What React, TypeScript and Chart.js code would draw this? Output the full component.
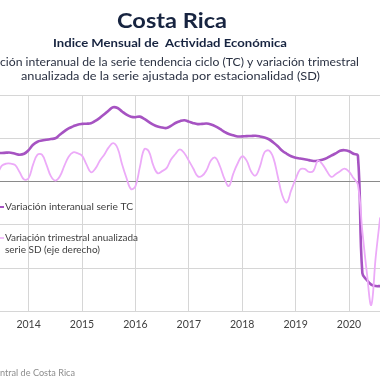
import React, { useEffect, useRef } from "react";
import { Chart, registerables } from "chart.js";

Chart.register(...registerables);

// Monthly observations, May 2013 – Aug 2020
const months: string[] = [
  "2013-05", "2013-06", "2013-07", "2013-08", "2013-09", "2013-10", "2013-11", "2013-12",
  "2014-01", "2014-02", "2014-03", "2014-04", "2014-05", "2014-06", "2014-07", "2014-08", "2014-09", "2014-10", "2014-11", "2014-12",
  "2015-01", "2015-02", "2015-03", "2015-04", "2015-05", "2015-06", "2015-07", "2015-08", "2015-09", "2015-10", "2015-11", "2015-12",
  "2016-01", "2016-02", "2016-03", "2016-04", "2016-05", "2016-06", "2016-07", "2016-08", "2016-09", "2016-10", "2016-11", "2016-12",
  "2017-01", "2017-02", "2017-03", "2017-04", "2017-05", "2017-06", "2017-07", "2017-08", "2017-09", "2017-10", "2017-11", "2017-12",
  "2018-01", "2018-02", "2018-03", "2018-04", "2018-05", "2018-06", "2018-07", "2018-08", "2018-09", "2018-10", "2018-11", "2018-12",
  "2019-01", "2019-02", "2019-03", "2019-04", "2019-05", "2019-06", "2019-07", "2019-08", "2019-09", "2019-10", "2019-11", "2019-12",
  "2020-01", "2020-02", "2020-03", "2020-04", "2020-05", "2020-06", "2020-07", "2020-08",
];

// Variación interanual serie TC (left axis, %)
const tcValues: number[] = [
  2.67, 2.64, 2.64, 2.67, 2.67, 2.57, 2.48, 2.57,
  2.90, 3.40, 3.68, 3.79, 3.86, 3.93, 4.00, 4.32, 4.64, 4.92, 5.10, 5.26,
  5.33, 5.35, 5.38, 5.61, 5.89, 6.21, 6.57, 6.87, 6.80, 6.48, 6.19, 6.00,
  5.95, 6.00, 5.79, 5.52, 5.26, 5.08, 4.99, 4.95, 5.15, 5.41, 5.58, 5.67,
  5.54, 5.40, 5.31, 5.33, 5.36, 5.27, 5.10, 4.86, 4.60, 4.39, 4.27, 4.17,
  4.18, 4.20, 4.21, 4.23, 4.17, 4.07, 3.91, 3.61, 3.26, 2.85, 2.57, 2.34,
  2.20, 2.13, 2.06, 1.98, 1.90, 1.93, 2.02, 2.17, 2.39, 2.60, 2.85, 2.90,
  2.80, 2.57, 2.39, -8.46, -9.10, -9.52, -9.66, -9.66,
];

// Variación trimestral anualizada serie SD (right axis, %)
const sdValues: number[] = [
  0.46, 1.84, 3.68, 4.14, 4.14, 3.79, 2.14, 0.46,
  0.80, 3.91, 6.21, 6.21, 3.91, 1.26, 0.23, 1.15, 3.56, 5.75, 6.74, 6.55,
  5.98, 3.98, 2.14, 2.99, 4.83, 6.21, 7.91, 8.87, 7.70, 4.00, 0.83, -1.72,
  -1.13, 3.33, 7.47, 7.01, 3.79, 1.93, 2.41, 3.10, 5.10, 6.37, 7.45, 6.53,
  4.83, 3.03, 1.24, 1.33, 2.64, 4.92, 5.52, 3.54, 0.69, -1.03, 1.84, 4.23,
  5.84, 4.83, 2.34, 1.38, 3.52, 6.74, 7.17, 5.47, 1.17, -3.17, -4.83, -2.05,
  0.55, 2.78, 2.94, 2.23, 2.48, 4.83, 4.02, 2.46, 1.08, 1.70, 2.39, 2.99,
  2.30, 0.80, -0.69, -11.49, -20.92, -28.51, -17.47, -8.28,
];

const yearTicks: number[] = [2014, 2015, 2016, 2017, 2018, 2019, 2020];

const titleText = "Costa Rica";
const subtitleText = "Indice Mensual de  Actividad Económica";
const descLine1 = "Variación interanual de la serie tendencia ciclo (TC) y variación trimestral";
const descLine2 = "anualizada de la serie ajustada por estacionalidad (SD)";
const legendTC = "Variación interanual serie TC";
const legendSD1 = "Variación trimestral anualizada";
const legendSD2 = "serie SD (eje derecho)";
const sourceText = "Fuente: Banco Central de Costa Rica";

const TC_COLOR = "#a653c2";
const SD_COLOR = "#ecaaf8";
const FONT = "Lato, 'Open Sans', sans-serif";

function monthToX(m: string): number {
  const [y, mo] = m.split("-").map(Number);
  return y + (mo - 1) / 12;
}

// draw text horizontally stretched so that it occupies [left, left+width]
function drawFit(ctx: CanvasRenderingContext2D, text: string, left: number, y: number, width: number) {
  const w = ctx.measureText(text).width;
  ctx.save();
  ctx.translate(left, y);
  ctx.scale(width / w, 1);
  ctx.textAlign = "left";
  ctx.fillText(text, 0, 0);
  ctx.restore();
}

// draw text whose hidden prefix ends at x=0 and whose end lies at `right`
function drawCropped(ctx: CanvasRenderingContext2D, text: string, prefix: string, right: number, y: number) {
  const wFull = ctx.measureText(text).width;
  const wPre = ctx.measureText(prefix).width;
  const s = right / (wFull - wPre);
  ctx.save();
  ctx.translate(right - s * wFull, y);
  ctx.scale(s, 1);
  ctx.textAlign = "left";
  ctx.fillText(text, 0, 0);
  ctx.restore();
}

export default function App() {
  const canvasRef = useRef<HTMLCanvasElement | null>(null);

  useEffect(() => {
    document.body.style.margin = "0";
    const canvas = canvasRef.current;
    if (!canvas) return;

    const textPlugin = {
      id: "textOverlay",
      afterDraw(chart: any) {
        const ctx = chart.ctx as CanvasRenderingContext2D;
        ctx.save();
        ctx.textBaseline = "alphabetic";
        ctx.fillStyle = "#172440";
        ctx.font = `bold 21px ${FONT}`;
        drawFit(ctx, titleText, 117, 28, 110);
        ctx.font = `bold 11.5px ${FONT}`;
        drawFit(ctx, subtitleText, 53, 47, 234);
        ctx.fillStyle = "#2a3142";
        ctx.font = `12px ${FONT}`;
        drawCropped(ctx, descLine1, "Varia", 359, 66);
        drawFit(ctx, descLine2, 21, 80, 299);

        // legend
        ctx.textBaseline = "middle";
        ctx.font = `10px ${FONT}`;
        ctx.fillStyle = "#404040";
        ctx.strokeStyle = TC_COLOR;
        ctx.lineWidth = 2;
        ctx.beginPath();
        ctx.moveTo(0, 207);
        ctx.lineTo(4, 207);
        ctx.stroke();
        drawFit(ctx, legendTC, 5, 207, 128);
        ctx.strokeStyle = SD_COLOR;
        ctx.lineWidth = 1.5;
        ctx.beginPath();
        ctx.moveTo(0, 238);
        ctx.lineTo(4, 238);
        ctx.stroke();
        drawFit(ctx, legendSD1, 5, 238, 133);
        drawFit(ctx, legendSD2, 5, 250, 95);

        // source
        ctx.fillStyle = "#8c8c8c";
        ctx.font = `10px ${FONT}`;
        drawCropped(ctx, sourceText, "Fuente: Banco Ce", 75, 373);
        ctx.restore();
      },
    };

    const chart = new Chart(canvas, {
      type: "line",
      data: {
        datasets: [
          {
            label: legendSD1 + " " + legendSD2,
            data: months.map((m, i) => ({ x: monthToX(m), y: sdValues[i] })),
            yAxisID: "y1",
            borderColor: SD_COLOR,
            borderWidth: 1.8,
            pointRadius: 0,
            tension: 0.4,
            fill: false,
          },
          {
            label: legendTC,
            data: months.map((m, i) => ({ x: monthToX(m), y: tcValues[i] })),
            yAxisID: "y",
            borderColor: TC_COLOR,
            borderWidth: 2.6,
            pointRadius: 0,
            tension: 0.4,
            fill: false,
          },
        ],
      },
      options: {
        animation: false,
        responsive: false,
        devicePixelRatio: 1,
        layout: { padding: { top: 95, bottom: 42, left: 0, right: 0 } },
        plugins: {
          legend: { display: false },
          title: { display: false },
          tooltip: { enabled: false },
        },
        scales: {
          x: {
            type: "linear",
            min: 2013.4644,
            max: 2020.5805,
            afterBuildTicks: (scale: any) => {
              scale.ticks = yearTicks.map((v) => ({ value: v }));
            },
            ticks: {
              autoSkip: false,
              maxRotation: 0,
              padding: 7,
              color: "#404040",
              font: { family: FONT, size: 10.5 },
              callback: (v: any) => String(v),
            },
            grid: { color: "#d6d6d6", drawTicks: false, lineWidth: 1 },
            border: { display: false },
          },
          y: {
            position: "left",
            min: -12,
            max: 8,
            ticks: { display: false, stepSize: 4 },
            grid: {
              drawTicks: false,
              color: (c: any) => (c.tick && c.tick.value === 0 ? "#8a8a8a" : "#d6d6d6"),
              lineWidth: 1,
            },
            border: { display: false },
          },
          y1: {
            position: "right",
            display: false,
            min: -30,
            max: 20,
            grid: { display: false },
          },
        },
      },
      plugins: [textPlugin],
    } as any);

    return () => chart.destroy();
  }, []);

  return (
    <div style={{ width: 380, height: 380, overflow: "hidden", background: "#fff" }}>
      <canvas ref={canvasRef} width={380} height={380} style={{ display: "block", width: 380, height: 380 }} />
    </div>
  );
}
